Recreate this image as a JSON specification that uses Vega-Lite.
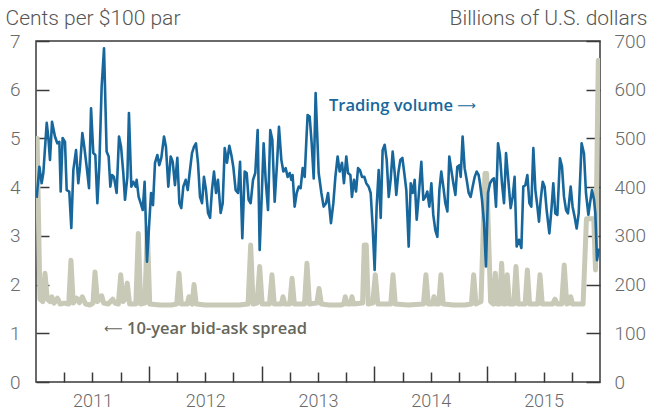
{
  "$schema": "https://vega.github.io/schema/vega-lite/v6.json",
  "width": 564,
  "height": 341,
  "autosize": {"type": "none"},
  "padding": {"left": 36, "top": 41, "right": 51, "bottom": 29},
  "background": "white",
  "config": {
    "view": {"stroke": "#3a3a3a", "strokeWidth": 1.5},
    "font": "Roboto",
    "axis": {"domain": false, "grid": false, "labelFont": "Roboto", "labelFontWeight": 300, "labelColor": "#6a6a6a", "titleFont": "Roboto", "titleFontWeight": 300, "titleColor": "#555555", "tickColor": "#3a3a3a", "tickWidth": 1.5}
  },
  "datasets": {
    "spread": [
      {"t":2011.000,"s":5.0},{"t":2011.010,"s":5.0},{"t":2011.035,"s":1.7},{"t":2011.060,"s":1.65},{"t":2011.080,"s":2.23},{"t":2011.100,"s":1.7},{"t":2011.125,"s":1.65},{"t":2011.140,"s":1.75},{"t":2011.160,"s":1.62},{"t":2011.190,"s":1.72},{"t":2011.215,"s":1.6},{"t":2011.250,"s":1.62},{"t":2011.290,"s":1.6},{"t":2011.310,"s":2.5},{"t":2011.330,"s":1.62},{"t":2011.360,"s":1.72},{"t":2011.385,"s":1.63},{"t":2011.410,"s":1.75},{"t":2011.440,"s":1.6},{"t":2011.480,"s":1.58},{"t":2011.505,"s":1.62},{"t":2011.523,"s":2.26},{"t":2011.545,"s":1.65},{"t":2011.565,"s":1.7},{"t":2011.582,"s":1.77},{"t":2011.600,"s":1.62},{"t":2011.640,"s":1.6},{"t":2011.680,"s":1.7},{"t":2011.700,"s":1.62},{"t":2011.730,"s":1.6},{"t":2011.751,"s":2.2},{"t":2011.772,"s":1.65},{"t":2011.790,"s":1.7},{"t":2011.809,"s":2.03},{"t":2011.830,"s":1.6},{"t":2011.885,"s":1.6},{"t":2011.907,"s":3.05},{"t":2011.928,"s":1.6},{"t":2011.965,"s":1.62},{"t":2011.987,"s":3.15},{"t":2012.008,"s":1.6},{"t":2012.100,"s":1.58},{"t":2012.200,"s":1.58},{"t":2012.248,"s":1.6},{"t":2012.268,"s":2.23},{"t":2012.288,"s":1.6},{"t":2012.340,"s":1.6},{"t":2012.356,"s":1.75},{"t":2012.372,"s":1.62},{"t":2012.385,"s":1.6},{"t":2012.401,"s":2.0},{"t":2012.420,"s":1.6},{"t":2012.500,"s":1.58},{"t":2012.600,"s":1.58},{"t":2012.700,"s":1.58},{"t":2012.800,"s":1.58},{"t":2012.880,"s":1.6},{"t":2012.903,"s":2.81},{"t":2012.925,"s":1.6},{"t":2012.960,"s":1.62},{"t":2012.983,"s":2.37},{"t":2013.005,"s":1.6},{"t":2013.070,"s":1.6},{"t":2013.092,"s":2.2},{"t":2013.112,"s":1.6},{"t":2013.175,"s":1.6},{"t":2013.190,"s":1.75},{"t":2013.205,"s":1.6},{"t":2013.250,"s":1.6},{"t":2013.270,"s":2.13},{"t":2013.290,"s":1.6},{"t":2013.380,"s":1.6},{"t":2013.402,"s":2.44},{"t":2013.424,"s":1.6},{"t":2013.490,"s":1.62},{"t":2013.509,"s":1.92},{"t":2013.530,"s":1.6},{"t":2013.600,"s":1.58},{"t":2013.700,"s":1.58},{"t":2013.728,"s":1.6},{"t":2013.742,"s":1.75},{"t":2013.757,"s":1.6},{"t":2013.787,"s":1.6},{"t":2013.801,"s":1.75},{"t":2013.815,"s":1.6},{"t":2013.895,"s":1.62},{"t":2013.910,"s":2.81},{"t":2013.928,"s":2.81},{"t":2013.945,"s":1.6},{"t":2013.985,"s":1.62},{"t":2014.008,"s":2.2},{"t":2014.030,"s":1.6},{"t":2014.145,"s":1.6},{"t":2014.165,"s":2.2},{"t":2014.185,"s":1.6},{"t":2014.300,"s":1.58},{"t":2014.435,"s":1.6},{"t":2014.457,"s":2.2},{"t":2014.478,"s":1.6},{"t":2014.515,"s":1.6},{"t":2014.528,"s":1.75},{"t":2014.545,"s":1.6},{"t":2014.570,"s":1.6},{"t":2014.590,"s":2.2},{"t":2014.610,"s":1.6},{"t":2014.700,"s":1.58},{"t":2014.800,"s":1.58},{"t":2014.860,"s":1.6},{"t":2014.880,"s":2.2},{"t":2014.900,"s":1.6},{"t":2014.945,"s":1.65},{"t":2014.980,"s":4.28},{"t":2014.995,"s":4.28},{"t":2015.030,"s":1.65},{"t":2015.055,"s":1.6},{"t":2015.072,"s":2.23},{"t":2015.090,"s":1.6},{"t":2015.110,"s":1.6},{"t":2015.128,"s":2.44},{"t":2015.146,"s":1.6},{"t":2015.160,"s":1.6},{"t":2015.178,"s":2.2},{"t":2015.196,"s":1.6},{"t":2015.235,"s":1.6},{"t":2015.255,"s":2.37},{"t":2015.275,"s":1.6},{"t":2015.336,"s":1.6},{"t":2015.356,"s":2.3},{"t":2015.376,"s":1.6},{"t":2015.448,"s":1.6},{"t":2015.468,"s":2.2},{"t":2015.488,"s":1.6},{"t":2015.580,"s":1.6},{"t":2015.601,"s":1.7},{"t":2015.620,"s":1.6},{"t":2015.660,"s":1.6},{"t":2015.683,"s":2.4},{"t":2015.705,"s":1.6},{"t":2015.725,"s":1.62},{"t":2015.740,"s":1.75},{"t":2015.757,"s":1.6},{"t":2015.850,"s":1.6},{"t":2015.880,"s":3.35},{"t":2015.945,"s":3.35},{"t":2015.960,"s":2.3},{"t":2015.985,"s":6.6},{"t":2016.000,"s":6.6}
    ],
    "vol": [
      {"t":2011.006,"v":378},{"t":2011.030,"v":442},{"t":2011.050,"v":408},{"t":2011.065,"v":429},{"t":2011.095,"v":532},{"t":2011.109,"v":503},{"t":2011.124,"v":456},{"t":2011.142,"v":534},{"t":2011.168,"v":504},{"t":2011.189,"v":490},{"t":2011.207,"v":493},{"t":2011.219,"v":391},{"t":2011.236,"v":501},{"t":2011.257,"v":493},{"t":2011.272,"v":394},{"t":2011.295,"v":391},{"t":2011.313,"v":316},{"t":2011.331,"v":435},{"t":2011.355,"v":476},{"t":2011.375,"v":408},{"t":2011.390,"v":442},{"t":2011.411,"v":511},{"t":2011.428,"v":483},{"t":2011.449,"v":442},{"t":2011.470,"v":398},{"t":2011.488,"v":562},{"t":2011.508,"v":470},{"t":2011.526,"v":466},{"t":2011.544,"v":367},{"t":2011.561,"v":442},{"t":2011.582,"v":606},{"t":2011.603,"v":685},{"t":2011.626,"v":473},{"t":2011.644,"v":463},{"t":2011.659,"v":401},{"t":2011.674,"v":425},{"t":2011.691,"v":421},{"t":2011.715,"v":388},{"t":2011.736,"v":504},{"t":2011.754,"v":483},{"t":2011.774,"v":429},{"t":2011.789,"v":374},{"t":2011.810,"v":421},{"t":2011.824,"v":552},{"t":2011.845,"v":401},{"t":2011.863,"v":411},{"t":2011.884,"v":401},{"t":2011.892,"v":415},{"t":2011.910,"v":380},{"t":2011.928,"v":367},{"t":2011.946,"v":353},{"t":2011.963,"v":411},{"t":2011.984,"v":247},
      {"t":2012.002,"v":319},{"t":2012.020,"v":388},{"t":2012.037,"v":363},{"t":2012.055,"v":450},{"t":2012.076,"v":466},{"t":2012.093,"v":445},{"t":2012.111,"v":460},{"t":2012.135,"v":504},{"t":2012.152,"v":483},{"t":2012.173,"v":401},{"t":2012.194,"v":463},{"t":2012.212,"v":452},{"t":2012.232,"v":404},{"t":2012.253,"v":460},{"t":2012.271,"v":367},{"t":2012.288,"v":357},{"t":2012.306,"v":401},{"t":2012.327,"v":415},{"t":2012.345,"v":394},{"t":2012.362,"v":429},{"t":2012.383,"v":470},{"t":2012.401,"v":483},{"t":2012.418,"v":490},{"t":2012.436,"v":450},{"t":2012.454,"v":380},{"t":2012.472,"v":367},{"t":2012.489,"v":421},{"t":2012.507,"v":394},{"t":2012.525,"v":347},{"t":2012.543,"v":337},{"t":2012.560,"v":394},{"t":2012.578,"v":432},{"t":2012.596,"v":388},{"t":2012.613,"v":415},{"t":2012.637,"v":347},{"t":2012.655,"v":367},{"t":2012.673,"v":480},{"t":2012.693,"v":450},{"t":2012.714,"v":485},{"t":2012.732,"v":466},{"t":2012.749,"v":442},{"t":2012.770,"v":394},{"t":2012.791,"v":388},{"t":2012.809,"v":452},{"t":2012.829,"v":295},{"t":2012.850,"v":432},{"t":2012.868,"v":429},{"t":2012.885,"v":374},{"t":2012.903,"v":367},{"t":2012.924,"v":415},{"t":2012.944,"v":429},{"t":2012.965,"v":517},{"t":2012.983,"v":271},
      {"t":2013.001,"v":380},{"t":2013.018,"v":490},{"t":2013.036,"v":415},{"t":2013.057,"v":353},{"t":2013.077,"v":517},{"t":2013.095,"v":497},{"t":2013.116,"v":370},{"t":2013.137,"v":450},{"t":2013.154,"v":524},{"t":2013.175,"v":456},{"t":2013.193,"v":432},{"t":2013.213,"v":439},{"t":2013.231,"v":421},{"t":2013.249,"v":429},{"t":2013.264,"v":415},{"t":2013.275,"v":425},{"t":2013.293,"v":360},{"t":2013.311,"v":388},{"t":2013.329,"v":401},{"t":2013.346,"v":398},{"t":2013.364,"v":439},{"t":2013.382,"v":421},{"t":2013.397,"v":497},{"t":2013.408,"v":548},{"t":2013.426,"v":545},{"t":2013.444,"v":490},{"t":2013.462,"v":418},{"t":2013.479,"v":593},{"t":2013.506,"v":429},{"t":2013.530,"v":388},{"t":2013.550,"v":360},{"t":2013.571,"v":367},{"t":2013.589,"v":388},{"t":2013.615,"v":326},{"t":2013.636,"v":367},{"t":2013.654,"v":421},{"t":2013.674,"v":463},{"t":2013.692,"v":432},{"t":2013.713,"v":450},{"t":2013.730,"v":408},{"t":2013.751,"v":463},{"t":2013.766,"v":429},{"t":2013.787,"v":425},{"t":2013.801,"v":380},{"t":2013.819,"v":415},{"t":2013.837,"v":391},{"t":2013.855,"v":439},{"t":2013.872,"v":435},{"t":2013.890,"v":421},{"t":2013.911,"v":421},{"t":2013.928,"v":408},{"t":2013.949,"v":401},{"t":2013.967,"v":388},{"t":2013.984,"v":322},
      {"t":2014.002,"v":230},{"t":2014.020,"v":360},{"t":2014.038,"v":435},{"t":2014.056,"v":337},{"t":2014.073,"v":476},{"t":2014.091,"v":487},{"t":2014.109,"v":456},{"t":2014.127,"v":380},{"t":2014.144,"v":415},{"t":2014.162,"v":473},{"t":2014.180,"v":429},{"t":2014.194,"v":384},{"t":2014.212,"v":429},{"t":2014.230,"v":456},{"t":2014.248,"v":460},{"t":2014.265,"v":429},{"t":2014.283,"v":394},{"t":2014.304,"v":278},{"t":2014.322,"v":408},{"t":2014.339,"v":388},{"t":2014.357,"v":415},{"t":2014.375,"v":333},{"t":2014.392,"v":380},{"t":2014.416,"v":452},{"t":2014.434,"v":374},{"t":2014.452,"v":380},{"t":2014.469,"v":391},{"t":2014.487,"v":360},{"t":2014.505,"v":408},{"t":2014.522,"v":343},{"t":2014.540,"v":312},{"t":2014.558,"v":298},{"t":2014.576,"v":394},{"t":2014.593,"v":432},{"t":2014.611,"v":401},{"t":2014.629,"v":367},{"t":2014.647,"v":350},{"t":2014.664,"v":463},{"t":2014.682,"v":435},{"t":2014.700,"v":408},{"t":2014.718,"v":384},{"t":2014.735,"v":442},{"t":2014.753,"v":445},{"t":2014.765,"v":421},{"t":2014.782,"v":504},{"t":2014.800,"v":439},{"t":2014.818,"v":415},{"t":2014.836,"v":388},{"t":2014.853,"v":380},{"t":2014.871,"v":401},{"t":2014.889,"v":421},{"t":2014.907,"v":432},{"t":2014.924,"v":425},{"t":2014.936,"v":408},{"t":2014.954,"v":374},{"t":2014.972,"v":326},{"t":2014.989,"v":237},
      {"t":2015.007,"v":388},{"t":2015.025,"v":408},{"t":2015.043,"v":415},{"t":2015.060,"v":418},{"t":2015.078,"v":360},{"t":2015.096,"v":490},{"t":2015.113,"v":466},{"t":2015.131,"v":408},{"t":2015.149,"v":367},{"t":2015.167,"v":470},{"t":2015.187,"v":415},{"t":2015.208,"v":357},{"t":2015.226,"v":380},{"t":2015.243,"v":421},{"t":2015.261,"v":278},{"t":2015.282,"v":292},{"t":2015.303,"v":275},{"t":2015.320,"v":401},{"t":2015.338,"v":404},{"t":2015.356,"v":425},{"t":2015.374,"v":367},{"t":2015.391,"v":360},{"t":2015.409,"v":480},{"t":2015.427,"v":394},{"t":2015.445,"v":360},{"t":2015.459,"v":329},{"t":2015.474,"v":374},{"t":2015.492,"v":411},{"t":2015.509,"v":401},{"t":2015.527,"v":353},{"t":2015.551,"v":305},{"t":2015.569,"v":353},{"t":2015.586,"v":408},{"t":2015.604,"v":346},{"t":2015.622,"v":343},{"t":2015.645,"v":459},{"t":2015.663,"v":442},{"t":2015.681,"v":380},{"t":2015.699,"v":353},{"t":2015.716,"v":346},{"t":2015.740,"v":401},{"t":2015.757,"v":360},{"t":2015.775,"v":339},{"t":2015.793,"v":315},{"t":2015.811,"v":346},{"t":2015.837,"v":490},{"t":2015.858,"v":469},{"t":2015.876,"v":387},{"t":2015.897,"v":343},{"t":2015.911,"v":367},{"t":2015.929,"v":394},{"t":2015.947,"v":374},{"t":2015.959,"v":346},{"t":2015.973,"v":250},{"t":2015.991,"v":274}
    ]
  },
  "resolve": {"scale": {"y": "independent"}, "axis": {"x": "independent"}},
  "layer": [
    {
      "data": {"name": "spread"},
      "mark": {"type": "line", "color": "#c9c9b7", "strokeWidth": 5, "strokeJoin": "round", "clip": true},
      "encoding": {
        "x": {"field": "t", "type": "quantitative", "scale": {"domain": [2011, 2016], "nice": false, "zero": false},
          "axis": {"orient": "bottom", "values": [2011.25,2011.5,2011.75,2012.25,2012.5,2012.75,2013.25,2013.5,2013.75,2014.25,2014.5,2014.75,2015.25,2015.5,2015.75],
            "offset": -10, "tickSize": 10, "labels": false, "title": null}},
        "y": {"field": "s", "type": "quantitative", "scale": {"domain": [0, 7], "nice": false},
          "axis": {"orient": "left", "values": [0,1,2,3,4,5,6,7], "offset": -13, "tickSize": 13, "labelFontSize": 19, "labelPadding": 16,
            "title": "Cents per $100 par", "titleAngle": 0, "titleAlign": "left", "titleBaseline": "alphabetic", "titleX": -44, "titleY": -17, "titleFontSize": 21}}
      }
    },
    {
      "data": {"name": "vol"},
      "mark": {"type": "line", "color": "#17679c", "strokeWidth": 2.6, "strokeJoin": "round", "clip": true},
      "encoding": {
        "x": {"field": "t", "type": "quantitative",
          "axis": {"orient": "bottom", "values": [2012, 2013, 2014, 2015], "offset": -16, "tickSize": 16, "labels": false, "title": null}},
        "y": {"field": "v", "type": "quantitative", "scale": {"domain": [0, 700], "nice": false},
          "axis": {"orient": "right", "values": [0,100,200,300,400,500,600,700], "offset": -14, "tickSize": 14, "labelFontSize": 19, "labelPadding": 14,
            "title": "Billions of U.S. dollars", "titleAngle": 0, "titleAlign": "right", "titleBaseline": "alphabetic", "titleX": 61, "titleY": -17, "titleFontSize": 21}}
      }
    },
    {
      "data": {"values": [{"t": 2013.597, "v": 567, "label": "Trading volume"}]},
      "mark": {"type": "text", "align": "left", "baseline": "middle", "font": "Open Sans", "fontWeight": 600, "fontSize": 16.5, "color": "#17679c"},
      "encoding": {
        "x": {"field": "t", "type": "quantitative",
          "axis": {"orient": "bottom", "values": [2011.5, 2012.5, 2013.5, 2014.5, 2015.5], "ticks": false, "labelExpr": "'' + floor(datum.value)", "labelFontSize": 18, "labelPadding": 10, "title": null}},
        "y": {"field": "v", "type": "quantitative", "scale": {"domain": [0, 700], "nice": false}, "axis": null},
        "text": {"field": "label"}
      }
    },
    {
      "data": {"values": [{"t": 2014.735, "v": 567, "label": "⟶"}]},
      "mark": {"type": "text", "align": "left", "baseline": "middle", "font": "DejaVu Sans", "fontWeight": 400, "fontSize": 13, "color": "#17679c"},
      "encoding": {
        "x": {"field": "t", "type": "quantitative", "axis": null},
        "y": {"field": "v", "type": "quantitative", "scale": {"domain": [0, 700], "nice": false}, "axis": null},
        "text": {"field": "label"}
      }
    },
    {
      "data": {"values": [{"t": 2011.807, "s": 1.088, "label": "10-year bid-ask spread"}]},
      "mark": {"type": "text", "align": "left", "baseline": "middle", "font": "Open Sans", "fontWeight": 600, "fontSize": 16.5, "color": "#66665a"},
      "encoding": {
        "x": {"field": "t", "type": "quantitative", "axis": null},
        "y": {"field": "s", "type": "quantitative", "scale": {"domain": [0, 7], "nice": false}, "axis": null},
        "text": {"field": "label"}
      }
    },
    {
      "data": {"values": [{"t": 2011.603, "s": 1.088, "label": "⟵"}]},
      "mark": {"type": "text", "align": "left", "baseline": "middle", "font": "DejaVu Sans", "fontWeight": 400, "fontSize": 13, "color": "#66665a"},
      "encoding": {
        "x": {"field": "t", "type": "quantitative", "axis": null},
        "y": {"field": "s", "type": "quantitative", "scale": {"domain": [0, 7], "nice": false}, "axis": null},
        "text": {"field": "label"}
      }
    }
  ]
}
